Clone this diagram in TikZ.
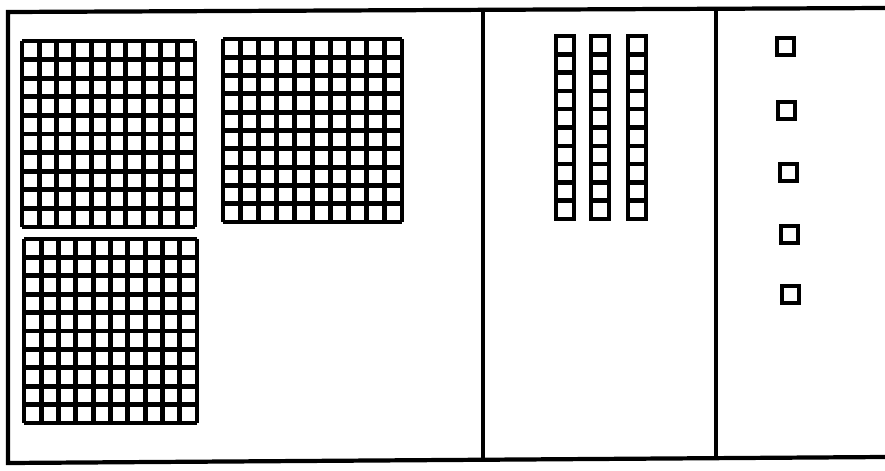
\documentclass[tikz,border=0pt]{standalone}
\begin{document}
\begin{tikzpicture}[x=0.03cm, y=-0.03cm,
    frameline/.style={line width=3.6pt, black},
    flatline/.style={line width=4.2pt, black},
    unitline/.style={line width=3.8pt, black}]
  \useasboundingbox (0,0) rectangle (885,471);
  % outer frame and the two dividers
  \draw[frameline] (885,8) -- (8,12) -- (8,463) -- (885,457);
  \draw[frameline] (483,9) -- (483,460);
  \draw[frameline] (716,8) -- (716,459);
  % hundreds
  \foreach \X/\Y/\W/\H in {22/41/173/186, 223/39/179/183, 24/239/173/184} {
    \foreach \i in {0,...,10} {
      \draw[flatline] ({\X+\i*\W/10},\Y) -- ({\X+\i*\W/10},{\Y+\H});
      \draw[flatline] (\X,{\Y+\i*\H/10}) -- ({\X+\W},{\Y+\i*\H/10});
    }
  }
  % tens
  \foreach \X in {556,591,628} {
    \draw[unitline] (\X,36) rectangle ({\X+18},219);
    \foreach \i in {1,...,9} {
      \draw[unitline] (\X,{36+\i*18.3}) -- ({\X+18},{36+\i*18.3});
    }
  }
  % ones
  \foreach \X/\Y in {777/38, 778/102, 780/164, 781/226, 782/286} {
    \draw[unitline] (\X,\Y) rectangle ({\X+17},{\Y+17});
  }
\end{tikzpicture}
\end{document}
